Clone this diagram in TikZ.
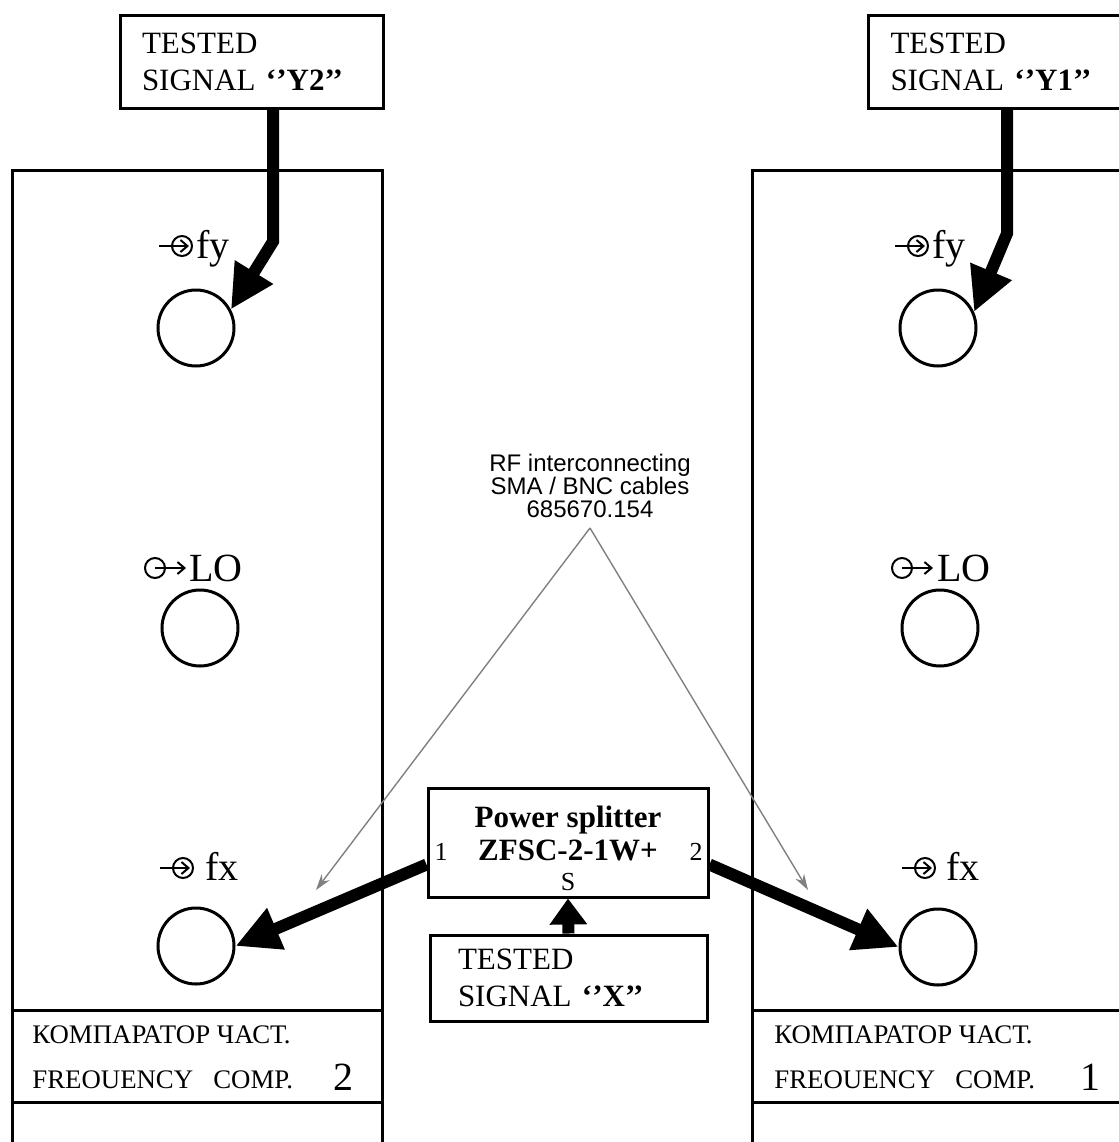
\documentclass[tikz,border=0pt]{standalone}
\usepackage{fontspec}
\setmainfont{Liberation Serif}
\setsansfont{Liberation Sans}
\usetikzlibrary{arrows.meta, positioning, calc}

\begin{document}
\begin{tikzpicture}[x=0.5pt, y=-0.5pt,
  panel/.style={line width=1.5pt},
  sigbox/.style={draw, line width=1.5pt, inner xsep=11pt, inner ysep=0pt, align=left,
    font=\fontsize{15.5}{18.5}\selectfont},
  jack/.style={draw, circle, line width=1.5pt, minimum size=38pt, inner sep=0pt},
  feed/.style={line width=6pt, -{Triangle[length=22pt,width=21pt]}},
  cable/.style={draw=gray, line width=0.7pt, -{Stealth[length=8pt,width=5pt]}},
  tag/.style={font=\fontsize{20}{22}\selectfont, inner sep=0pt, anchor=base west},
  plate/.style={font=\fontsize{13.4}{15}\selectfont, inner sep=0pt, anchor=base west},
  unitno/.style={font=\fontsize{20}{22}\selectfont, inner sep=0pt, anchor=base west},
  portno/.style={font=\fontsize{13}{15}\selectfont, inner sep=0pt},
  pics/injack/.style={code={
    \draw[line width=1pt] (0,0) circle[radius=5pt];
    \draw[line width=1pt, -{Straight Barb[length=3.5pt,width=6pt]}] (-23,0) -- (7,0);}},
  pics/outjack/.style={code={
    \draw[line width=1pt] (0,0) circle[radius=5pt];
    \draw[line width=1pt, -{Straight Barb[length=3.5pt,width=6pt]}] (0,0) -- (31,0);}}]
\clip (0,0) rectangle (1119,1142);

% comparator 2 (left)
\draw[panel] (382,1150) -- (382,170) -- (12,170) -- (12,1150);
\draw[panel] (12,1010) -- (382,1010);
\draw[panel] (12,1102) -- (382,1102);
\node[plate] (capL) at (32,1043) {КОМПАРАТОР ЧАСТ.};
\node[plate] (engL) at (32,1088) {FREOUENCY\ \ \ COMP.};
\node[unitno] (noL) at (333,1090) {2};

% comparator 1 (right)
\draw[panel] (1130,170) -- (752,170) -- (752,1150);
\draw[panel] (752,1010) -- (1130,1010);
\draw[panel] (752,1102) -- (1130,1102);
\node[plate] (capR) at (774,1043) {КОМПАРАТОР ЧАСТ.};
\node[plate] (engR) at (774,1088) {FREOUENCY\ \ \ COMP.};
\node[unitno] (noR) at (1080,1090) {1};

% jacks
\node[jack] (fyL) at (196,328) {};
\node[jack] (loL) at (200,628) {};
\node[jack] (fxL) at (196,946) {};
\node[jack] (fyR) at (938,328) {};
\node[jack] (loR) at (940,628) {};
\node[jack] (fxR) at (938,947) {};

% jack labels
\pic at (182,246) {injack};
\node[tag] (fyLt) at (196,258) {fy};
\pic at (155,568) {outjack};
\node[tag] (loLt) at (189,581) {LO};
\pic at (183,868) {injack};
\node[tag] (fxLt) at (205,880) {fx};
\pic at (918,246) {injack};
\node[tag] (fyRt) at (932,258) {fy};
\pic at (902,568) {outjack};
\node[tag] (loRt) at (937,581) {LO};
\pic at (925,868) {injack};
\node[tag] (fxRt) at (946,880) {fx};

% signal sources
\node[sigbox, text width=109.5pt, minimum height=46.5pt] (sigY2) at (251.5,61.5)
  {TESTED\\SIGNAL \textbf{`'Y2'{}'}};
\node[sigbox, text width=107.5pt, minimum height=46.5pt] (sigY1) at (998,61.5)
  {TESTED\\SIGNAL \textbf{`'Y1'{}'}};
\node[sigbox, text width=110.5pt, minimum height=43pt, inner xsep=14pt] (sigX) at (568.5,978)
  {TESTED\\SIGNAL \textbf{`'X'{}'}};

% splitter
\node[draw, line width=1.5pt, minimum width=140pt, minimum height=54.5pt, inner sep=0pt] (split) at (568,842.5) {};
\node[font=\bfseries\fontsize{15.5}{17}\selectfont, inner sep=0pt, anchor=base] (splName) at (568,827) {Power splitter};
\node[font=\bfseries\fontsize{15.5}{17}\selectfont, inner sep=0pt, anchor=base] (splType) at (568,860) {ZFSC-2-1W+};
\node[portno, anchor=base] (pS) at (568,890) {S};
\node[portno] (p1) at (441,852) {1};
\node[portno] (p2) at (696,852) {2};

% thick feeds
\draw[feed] ([xshift=10.75pt]sigY2.south) -- ++(0,132) -- (fyL.28);
\draw[feed] ([xshift=4.5pt]sigY1.south) -- ++(0,124) -- (fyR.24);
\draw[feed, -{Triangle[length=13pt,width=18pt]}] (sigX.north) -- (split.south);
\draw[feed] ([yshift=-11pt]split.west) -- (fxL.east);
\draw[feed] ([yshift=-11pt]split.east) -- (fxR.west);

% cables note
\node[font=\sffamily\fontsize{12}{11.5}\selectfont, align=center, inner sep=0pt] (rfnote) at (590,486)
  {RF interconnecting\\SMA / BNC cables\\685670.154};
\coordinate (apex) at (590,528);
\coordinate (cabL) at (316,890);
\coordinate (cabR) at (808,890);
\draw[cable] (apex) -- (cabL);
\draw[cable] (apex) -- (cabR);
\end{tikzpicture}
\end{document}
